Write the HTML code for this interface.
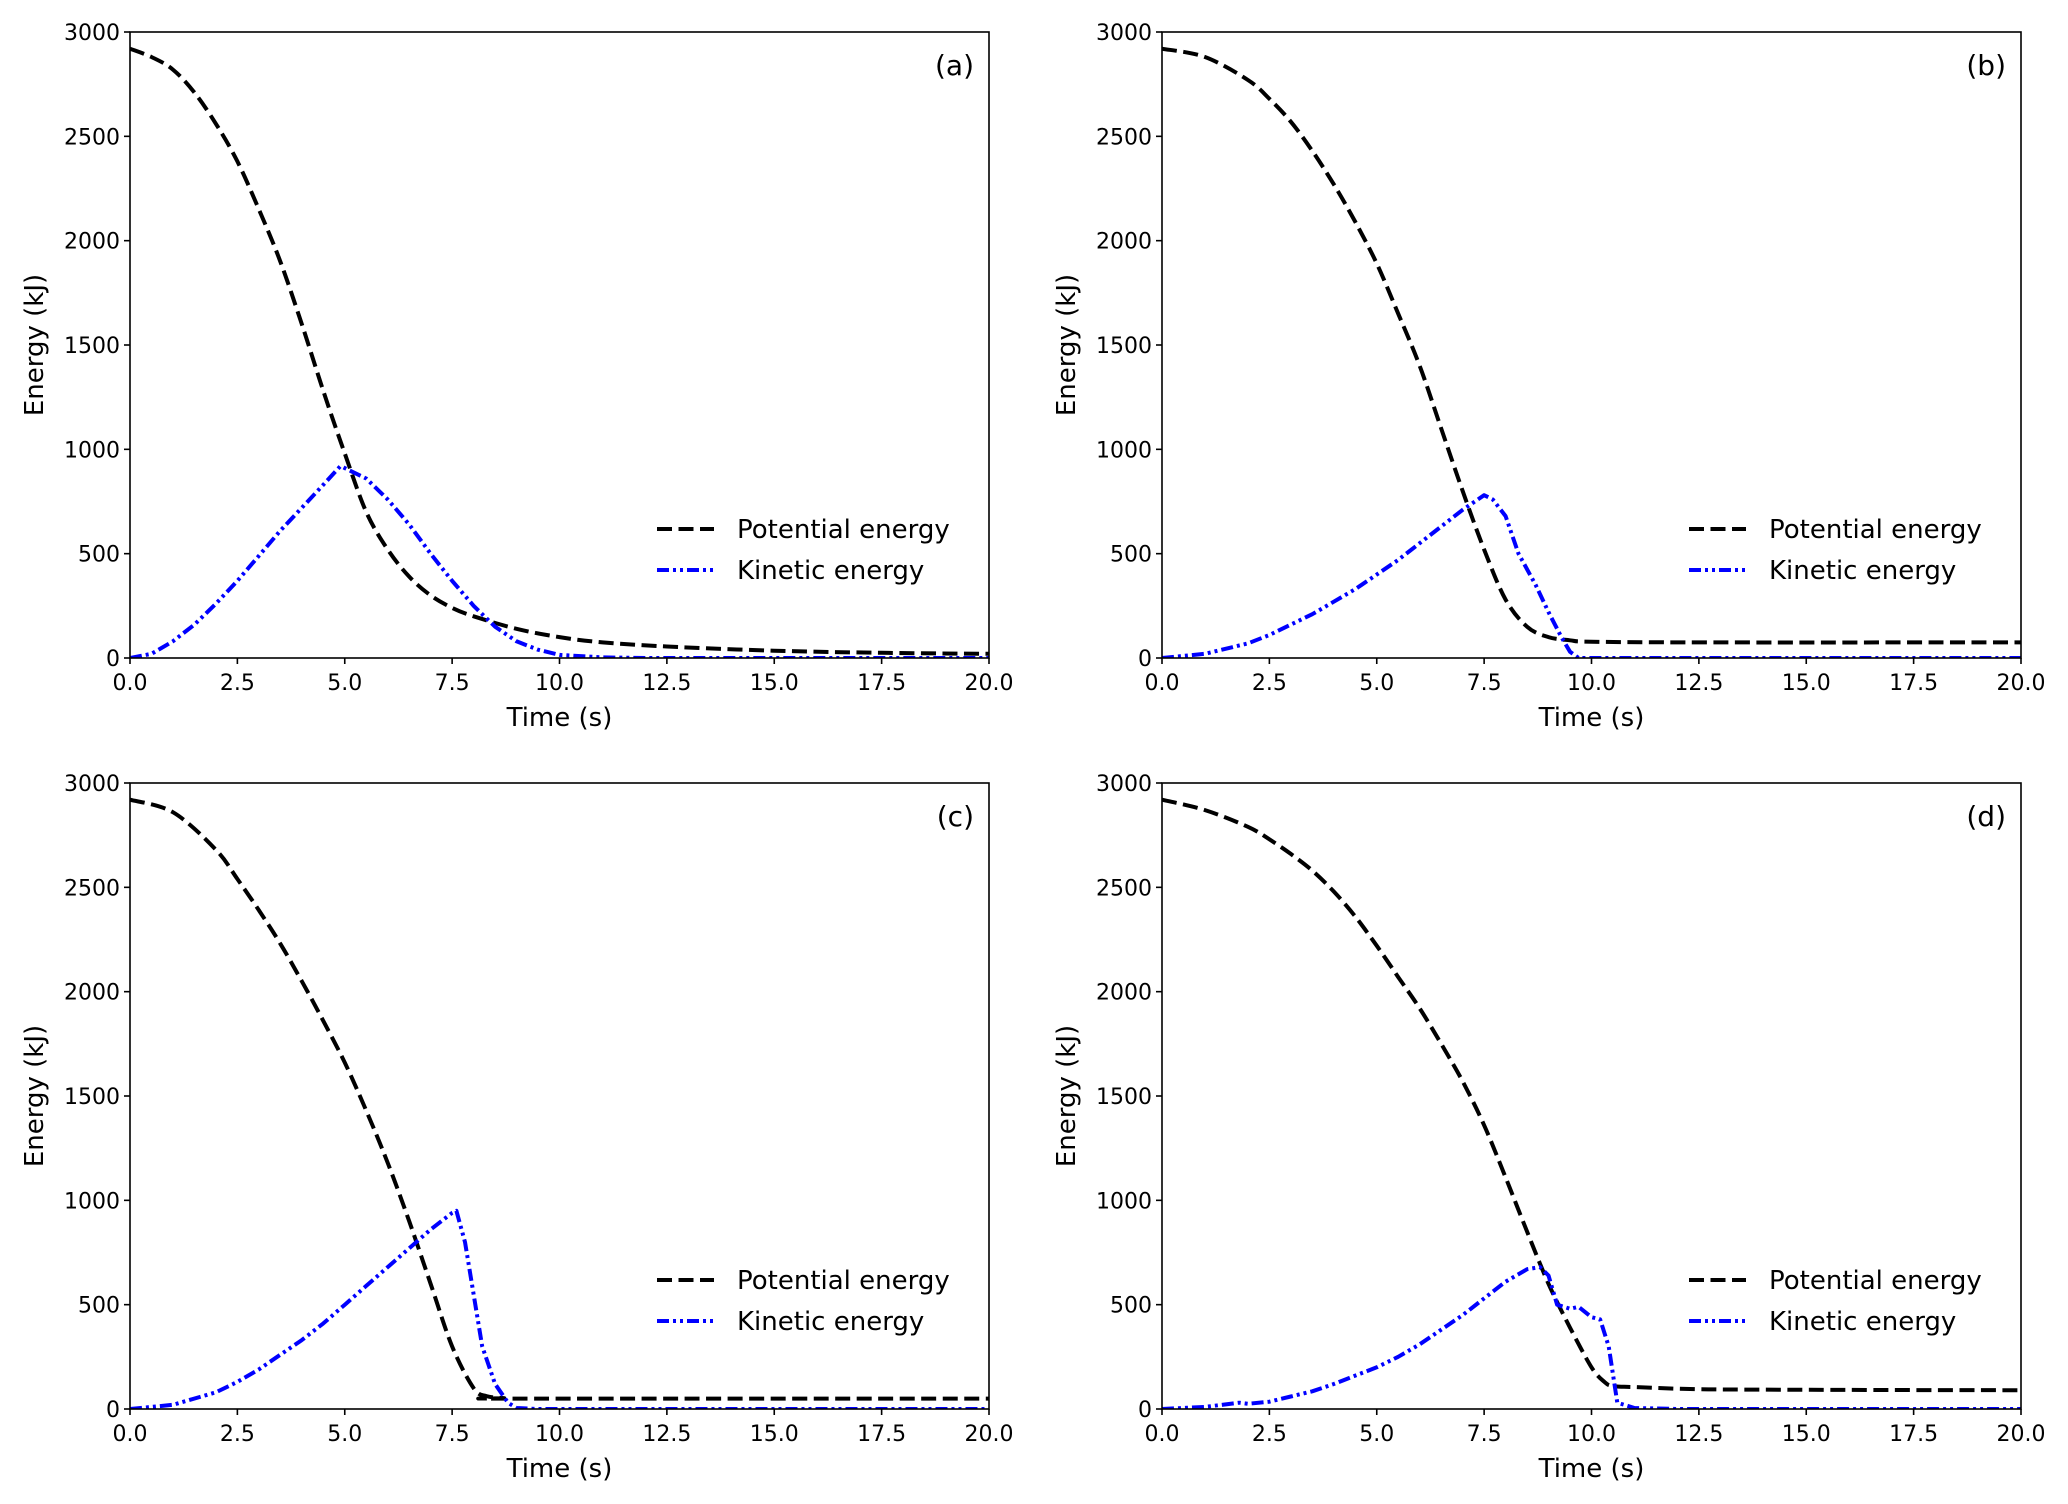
<!DOCTYPE html>
<html><head><meta charset="utf-8"><style>
html,body{margin:0;padding:0;background:#fff}
svg{display:block}
text{font-family:"DejaVu Sans","Liberation Sans",sans-serif;fill:#000}
</style></head><body>
<svg id="fig" width="2068" height="1504" viewBox="0 0 2068 1504" xmlns="http://www.w3.org/2000/svg"></svg>
<script>
const xTicks=[0,2.5,5,7.5,10,12.5,15,17.5,20];
const xTickLabels=["0.0","2.5","5.0","7.5","10.0","12.5","15.0","17.5","20.0"];
const yTicks=[0,500,1000,1500,2000,2500,3000];
const yTickLabels=["0","500","1000","1500","2000","2500","3000"];
const panelLabels=["(a)","(b)","(c)","(d)"];
const seriesNames=["Potential energy","Kinetic energy"];

const peA_t=[0,0.5,1,1.5,2,2.5,3,3.5,4,4.5,5,5.5,6,6.5,7,7.5,8,9,10,11,12.5,15,17.5,20];
const peA_v=[2920,2880,2820,2710,2560,2380,2150,1900,1600,1280,980,700,520,390,300,240,200,140,100,75,55,35,25,20];
const keA_t=[0,0.5,1,1.5,2,2.5,3,3.5,4,4.5,4.9,5.5,6,6.5,7,7.5,8,8.5,9,9.5,10,11,12,20];
const keA_v=[0,20,80,160,260,370,490,610,720,830,920,860,760,640,500,370,250,150,80,40,15,3,0,0];

const peB_t=[0,1,2,2.5,3,3.5,4,4.5,5,5.5,6,6.5,7,7.5,8,8.5,9,9.5,10,12.5,20];
const peB_v=[2920,2880,2770,2680,2570,2430,2270,2090,1890,1650,1400,1100,800,520,280,150,100,85,78,75,75];
const keB_t=[0,1,2,2.5,3,3.5,4,4.5,5,5.5,6,6.5,7,7.5,7.7,8,8.3,8.7,9,9.3,9.5,9.7,20];
const keB_v=[0,20,70,110,160,210,270,330,400,470,550,630,710,780,760,680,500,350,220,100,30,0,0];

const peC_t=[0,1,2,2.5,3,3.5,4,4.5,5,5.5,6,6.5,7,7.5,8,8.3,8.7,9,20];
const peC_v=[2920,2860,2680,2540,2390,2230,2050,1860,1660,1430,1180,900,600,300,100,62,52,50,50];
const keC_t=[0,1,2,2.5,3,3.5,4,4.5,5,5.5,6,6.5,7,7.5,7.6,7.8,8,8.2,8.5,8.8,9,9.5,20];
const keC_v=[0,20,80,130,190,260,330,410,500,590,680,770,860,940,950,800,550,300,120,30,5,0,0];

const peD_t=[0,1,2,2.5,3,3.5,4,4.5,5,5.5,6,6.5,7,7.5,8,8.5,9,9.5,10,10.3,10.5,11,12.5,15,20];
const peD_v=[2920,2870,2790,2730,2660,2580,2480,2360,2220,2070,1920,1750,1570,1360,1110,850,600,390,200,130,110,105,95,92,90];
const keD_t=[0,1,1.8,2,2.5,3,3.5,4,4.5,5,5.5,6,6.5,7,7.5,8,8.5,8.8,9,9.2,9.5,9.7,10,10.2,10.4,10.6,11,12,20];
const keD_v=[0,10,30,25,35,60,85,120,160,200,250,310,380,450,530,610,670,680,640,500,480,490,440,430,300,30,5,0,0];

const panels=[
 {x0:130,y0:32,pe:[peA_t,peA_v],ke:[keA_t,keA_v],name:"a"},
 {x0:1162,y0:32,pe:[peB_t,peB_v],ke:[keB_t,keB_v],name:"b"},
 {x0:130,y0:783,pe:[peC_t,peC_v],ke:[keC_t,keC_v],name:"c"},
 {x0:1162,y0:783,pe:[peD_t,peD_v],ke:[keD_t,keD_v],name:"d"}
];
const W=859,H=626;
const svg=document.getElementById('fig');
const NS="http://www.w3.org/2000/svg";
function mk(tag,attrs,parent){const e=document.createElementNS(NS,tag);for(const k in attrs)e.setAttribute(k,attrs[k]);parent.appendChild(e);return e;}

function smoothPath(pts){
  let d='M'+pts[0][0].toFixed(1)+','+pts[0][1].toFixed(1);
  for(let i=0;i<pts.length-1;i++){
    const p0=pts[Math.max(0,i-1)],p1=pts[i],p2=pts[i+1],p3=pts[Math.min(pts.length-1,i+2)];
    const c1=[p1[0]+(p2[0]-p0[0])/6,p1[1]+(p2[1]-p0[1])/6];
    const c2=[p2[0]-(p3[0]-p1[0])/6,p2[1]-(p3[1]-p1[1])/6];
    d+=' C'+c1[0].toFixed(1)+','+c1[1].toFixed(1)+' '+c2[0].toFixed(1)+','+c2[1].toFixed(1)+' '+p2[0].toFixed(1)+','+p2[1].toFixed(1);
  }
  return d;
}

panels.forEach((p,i)=>{
  const g=mk('g',{},svg);
  
  
  const sx=t=>p.x0+t/20*W;
  const sy=v=>p.y0+H-v/3000*H;
  const clip=mk('clipPath',{id:'clip'+i},g);
  mk('rect',{x:p.x0,y:p.y0,width:W,height:H},clip);
  const pts=(ts,vs)=>ts.map((t,j)=>[sx(t),sy(vs[j])]);
  const linePath=(ts,vs)=>ts.map((t,j)=>(j?'L':'M')+sx(t).toFixed(1)+','+sy(vs[j]).toFixed(1)).join(' ');
  const pe=mk('path',{d:smoothPath(pts(p.pe[0],p.pe[1])),fill:'none',stroke:'#000','stroke-width':4,'stroke-dasharray':'15 6.5','clip-path':'url(#clip'+i+')'},g);
  
  
  const ke=mk('path',{d:linePath(p.ke[0],p.ke[1]),fill:'none',stroke:'#0000ff','stroke-width':4,'stroke-linejoin':'round','stroke-dasharray':'12 4 3 4 3 4','clip-path':'url(#clip'+i+')'},g);
  
  
  const frame=mk('rect',{x:p.x0,y:p.y0,width:W,height:H,fill:'none',stroke:'#000','stroke-width':1.6},g);
  
  
  xTicks.forEach((t,j)=>{
    mk('line',{x1:sx(t),x2:sx(t),y1:p.y0+H,y2:p.y0+H+6,stroke:'#000','stroke-width':1.6},g);
    const tx=mk('text',{x:sx(t),y:p.y0+H+32,'text-anchor':'middle','font-size':22},g);
    tx.textContent=xTickLabels[j];
    
    
  });
  yTicks.forEach((v,j)=>{
    mk('line',{x1:p.x0-6,x2:p.x0,y1:sy(v),y2:sy(v),stroke:'#000','stroke-width':1.6},g);
    const ty=mk('text',{x:p.x0-10,y:sy(v)+8,'text-anchor':'end','font-size':22},g);
    ty.textContent=yTickLabels[j];
    
    
  });
  const xl=mk('text',{x:p.x0+W/2,y:p.y0+H+68,'text-anchor':'middle','font-size':26},g);
  xl.textContent="Time (s)";
  
  
  const cy=p.y0+H/2, cx=p.x0-87;
  const yl=mk('text',{x:cx,y:cy,'text-anchor':'middle','font-size':26,transform:'rotate(-90 '+cx+' '+cy+')'},g);
  yl.textContent="Energy (kJ)";
  
  
  const pl=mk('text',{x:p.x0+W-15,y:p.y0+43,'text-anchor':'end','font-size':28},g);
  pl.textContent=panelLabels[i];
  
  
  const lg=mk('g',{},g);
  
  
  const lx=p.x0+527, ly1=p.y0+497, ly2=p.y0+538;
  mk('line',{x1:lx,x2:lx+57,y1:ly1,y2:ly1,stroke:'#000','stroke-width':4,'stroke-dasharray':'15 6.5'},lg);
  mk('line',{x1:lx,x2:lx+57,y1:ly2,y2:ly2,stroke:'#0000ff','stroke-width':4,'stroke-dasharray':'12 4 3 4 3 4'},lg);
  const t1=mk('text',{x:lx+80,y:ly1+9,'font-size':26},lg);
  t1.textContent=seriesNames[0];
  
  
  const t2=mk('text',{x:lx+80,y:ly2+9,'font-size':26},lg);
  t2.textContent=seriesNames[1];
  
  
});
</script>
</body></html>
